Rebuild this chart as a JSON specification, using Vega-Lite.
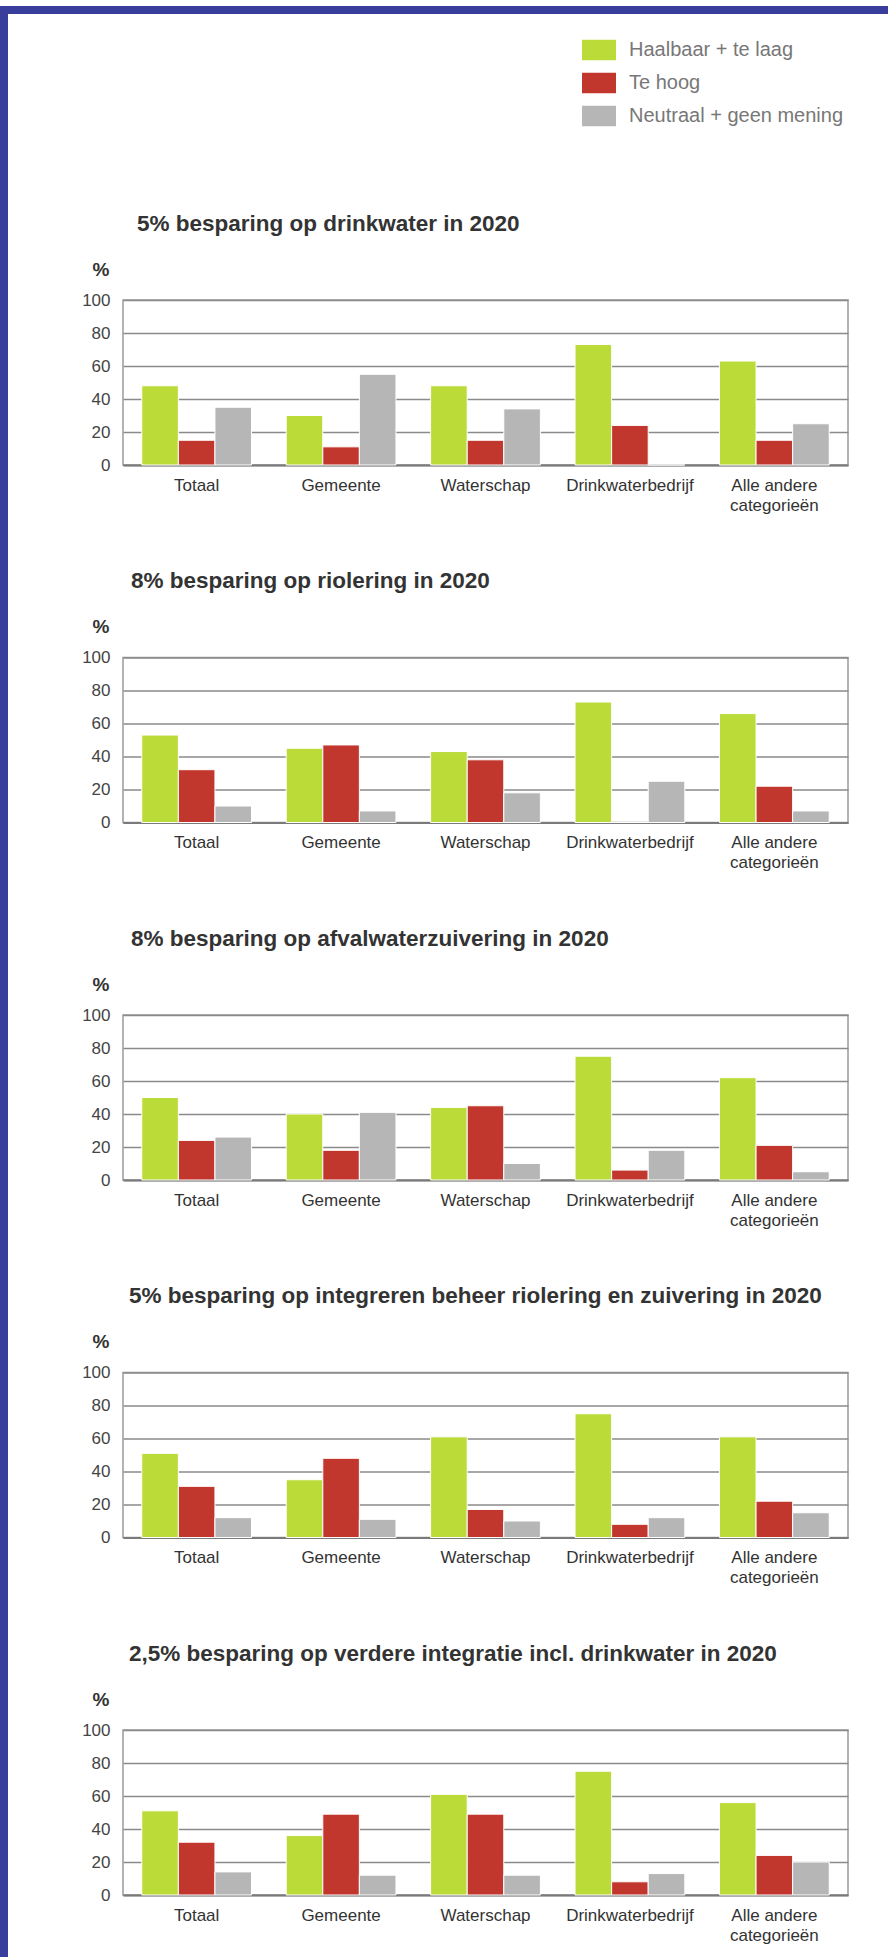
{
  "$schema": "https://vega.github.io/schema/vega-lite/v6.json",
  "background": "white",
  "padding": {"left": 0, "top": 6, "right": 0, "bottom": 0},
  "autosize": {"type": "pad"},
  "datasets": {
    "p1": [
      {"categorie": "Totaal", "reeks": "Haalbaar + te laag", "pct": 48},
      {"categorie": "Totaal", "reeks": "Te hoog", "pct": 15},
      {"categorie": "Totaal", "reeks": "Neutraal + geen mening", "pct": 35},
      {"categorie": "Gemeente", "reeks": "Haalbaar + te laag", "pct": 30},
      {"categorie": "Gemeente", "reeks": "Te hoog", "pct": 11},
      {"categorie": "Gemeente", "reeks": "Neutraal + geen mening", "pct": 55},
      {"categorie": "Waterschap", "reeks": "Haalbaar + te laag", "pct": 48},
      {"categorie": "Waterschap", "reeks": "Te hoog", "pct": 15},
      {"categorie": "Waterschap", "reeks": "Neutraal + geen mening", "pct": 34},
      {"categorie": "Drinkwaterbedrijf", "reeks": "Haalbaar + te laag", "pct": 73},
      {"categorie": "Drinkwaterbedrijf", "reeks": "Te hoog", "pct": 24},
      {"categorie": "Drinkwaterbedrijf", "reeks": "Neutraal + geen mening", "pct": 0},
      {"categorie": "Alle andere categorieën", "reeks": "Haalbaar + te laag", "pct": 63},
      {"categorie": "Alle andere categorieën", "reeks": "Te hoog", "pct": 15},
      {"categorie": "Alle andere categorieën", "reeks": "Neutraal + geen mening", "pct": 25}
    ],
    "p2": [
      {"categorie": "Totaal", "reeks": "Haalbaar + te laag", "pct": 53},
      {"categorie": "Totaal", "reeks": "Te hoog", "pct": 32},
      {"categorie": "Totaal", "reeks": "Neutraal + geen mening", "pct": 10},
      {"categorie": "Gemeente", "reeks": "Haalbaar + te laag", "pct": 45},
      {"categorie": "Gemeente", "reeks": "Te hoog", "pct": 47},
      {"categorie": "Gemeente", "reeks": "Neutraal + geen mening", "pct": 7},
      {"categorie": "Waterschap", "reeks": "Haalbaar + te laag", "pct": 43},
      {"categorie": "Waterschap", "reeks": "Te hoog", "pct": 38},
      {"categorie": "Waterschap", "reeks": "Neutraal + geen mening", "pct": 18},
      {"categorie": "Drinkwaterbedrijf", "reeks": "Haalbaar + te laag", "pct": 73},
      {"categorie": "Drinkwaterbedrijf", "reeks": "Te hoog", "pct": 0},
      {"categorie": "Drinkwaterbedrijf", "reeks": "Neutraal + geen mening", "pct": 25},
      {"categorie": "Alle andere categorieën", "reeks": "Haalbaar + te laag", "pct": 66},
      {"categorie": "Alle andere categorieën", "reeks": "Te hoog", "pct": 22},
      {"categorie": "Alle andere categorieën", "reeks": "Neutraal + geen mening", "pct": 7}
    ],
    "p3": [
      {"categorie": "Totaal", "reeks": "Haalbaar + te laag", "pct": 50},
      {"categorie": "Totaal", "reeks": "Te hoog", "pct": 24},
      {"categorie": "Totaal", "reeks": "Neutraal + geen mening", "pct": 26},
      {"categorie": "Gemeente", "reeks": "Haalbaar + te laag", "pct": 40},
      {"categorie": "Gemeente", "reeks": "Te hoog", "pct": 18},
      {"categorie": "Gemeente", "reeks": "Neutraal + geen mening", "pct": 41},
      {"categorie": "Waterschap", "reeks": "Haalbaar + te laag", "pct": 44},
      {"categorie": "Waterschap", "reeks": "Te hoog", "pct": 45},
      {"categorie": "Waterschap", "reeks": "Neutraal + geen mening", "pct": 10},
      {"categorie": "Drinkwaterbedrijf", "reeks": "Haalbaar + te laag", "pct": 75},
      {"categorie": "Drinkwaterbedrijf", "reeks": "Te hoog", "pct": 6},
      {"categorie": "Drinkwaterbedrijf", "reeks": "Neutraal + geen mening", "pct": 18},
      {"categorie": "Alle andere categorieën", "reeks": "Haalbaar + te laag", "pct": 62},
      {"categorie": "Alle andere categorieën", "reeks": "Te hoog", "pct": 21},
      {"categorie": "Alle andere categorieën", "reeks": "Neutraal + geen mening", "pct": 5}
    ],
    "p4": [
      {"categorie": "Totaal", "reeks": "Haalbaar + te laag", "pct": 51},
      {"categorie": "Totaal", "reeks": "Te hoog", "pct": 31},
      {"categorie": "Totaal", "reeks": "Neutraal + geen mening", "pct": 12},
      {"categorie": "Gemeente", "reeks": "Haalbaar + te laag", "pct": 35},
      {"categorie": "Gemeente", "reeks": "Te hoog", "pct": 48},
      {"categorie": "Gemeente", "reeks": "Neutraal + geen mening", "pct": 11},
      {"categorie": "Waterschap", "reeks": "Haalbaar + te laag", "pct": 61},
      {"categorie": "Waterschap", "reeks": "Te hoog", "pct": 17},
      {"categorie": "Waterschap", "reeks": "Neutraal + geen mening", "pct": 10},
      {"categorie": "Drinkwaterbedrijf", "reeks": "Haalbaar + te laag", "pct": 75},
      {"categorie": "Drinkwaterbedrijf", "reeks": "Te hoog", "pct": 8},
      {"categorie": "Drinkwaterbedrijf", "reeks": "Neutraal + geen mening", "pct": 12},
      {"categorie": "Alle andere categorieën", "reeks": "Haalbaar + te laag", "pct": 61},
      {"categorie": "Alle andere categorieën", "reeks": "Te hoog", "pct": 22},
      {"categorie": "Alle andere categorieën", "reeks": "Neutraal + geen mening", "pct": 15}
    ],
    "p5": [
      {"categorie": "Totaal", "reeks": "Haalbaar + te laag", "pct": 51},
      {"categorie": "Totaal", "reeks": "Te hoog", "pct": 32},
      {"categorie": "Totaal", "reeks": "Neutraal + geen mening", "pct": 14},
      {"categorie": "Gemeente", "reeks": "Haalbaar + te laag", "pct": 36},
      {"categorie": "Gemeente", "reeks": "Te hoog", "pct": 49},
      {"categorie": "Gemeente", "reeks": "Neutraal + geen mening", "pct": 12},
      {"categorie": "Waterschap", "reeks": "Haalbaar + te laag", "pct": 61},
      {"categorie": "Waterschap", "reeks": "Te hoog", "pct": 49},
      {"categorie": "Waterschap", "reeks": "Neutraal + geen mening", "pct": 12},
      {"categorie": "Drinkwaterbedrijf", "reeks": "Haalbaar + te laag", "pct": 75},
      {"categorie": "Drinkwaterbedrijf", "reeks": "Te hoog", "pct": 8},
      {"categorie": "Drinkwaterbedrijf", "reeks": "Neutraal + geen mening", "pct": 13},
      {"categorie": "Alle andere categorieën", "reeks": "Haalbaar + te laag", "pct": 56},
      {"categorie": "Alle andere categorieën", "reeks": "Te hoog", "pct": 24},
      {"categorie": "Alle andere categorieën", "reeks": "Neutraal + geen mening", "pct": 20}
    ],
    "leeg": [{"rand": "blauw"}]
  },
  "spacing": 0,
  "bounds": "full",
  "hconcat": [
    {
      "width": 8,
      "height": 1951,
      "data": {"name": "leeg"},
      "mark": {"type": "rect", "color": "#393e9c"},
      "encoding": {},
      "view": {"fill": "#393e9c", "stroke": null}
    },
    {
      "spacing": 197,
      "bounds": "full",
      "vconcat": [
        {
          "width": 880,
          "height": 8,
          "data": {"name": "leeg"},
          "mark": {"type": "rect", "color": "#393e9c"},
          "encoding": {},
          "view": {"fill": "#393e9c", "stroke": null}
        },
        {
          "spacing": 54.5,
          "bounds": "full",
          "vconcat": [
            {
              "spacing": 0,
              "hconcat": [
                {"width": 1, "height": 165, "data": {"name": "leeg"}, "mark": {"type": "rect", "opacity": 0}, "encoding": {}, "view": {"stroke": null}},
                {
                  "title": {"text": "5% besparing op drinkwater in 2020", "dx": 14},
                  "data": {"name": "p1"},
                  "width": 725, "height": 165,
                  "mark": {"type": "bar", "stroke": "#ffffff", "strokeWidth": 1},
                  "encoding": {
                    "x": {"field": "categorie", "type": "nominal", "sort": null, "title": null,
                          "scale": {"paddingInner": 0.24, "paddingOuter": 0.13},
                          "axis": {"labelExpr": "datum.value == 'Alle andere categorieën' ? ['Alle andere', 'categorieën'] : datum.label"}},
                    "xOffset": {"field": "reeks", "type": "nominal", "sort": null,
                                "scale": {"domain": ["Haalbaar + te laag", "Te hoog", "Neutraal + geen mening"], "paddingInner": 0, "paddingOuter": 0}},
                    "y": {"field": "pct", "type": "quantitative", "title": "%",
                          "scale": {"domain": [0, 100]},
                          "axis": {"tickCount": 5, "titleAngle": 0, "titleX": -14, "titleY": -31, "titleAlign": "right", "titleBaseline": "middle", "minExtent": 113}},
                    "color": {"field": "reeks", "type": "nominal",
                              "scale": {"domain": ["Haalbaar + te laag", "Te hoog", "Neutraal + geen mening"], "range": ["#badb38", "#c1372d", "#b5b6b5"]},
                              "legend": {"orient": "none", "legendX": 582, "legendY": 27, "title": null, "direction": "vertical"}}
                  }
                }
              ]
            },
            {
              "spacing": 0,
              "hconcat": [
                {"width": 1, "height": 165, "data": {"name": "leeg"}, "mark": {"type": "rect", "opacity": 0}, "encoding": {}, "view": {"stroke": null}},
                {
                  "title": {"text": "8% besparing op riolering in 2020", "dx": 8},
                  "data": {"name": "p2"},
                  "width": 725, "height": 165,
                  "mark": {"type": "bar", "stroke": "#ffffff", "strokeWidth": 1},
                  "encoding": {
                    "x": {"field": "categorie", "type": "nominal", "sort": null, "title": null,
                          "scale": {"paddingInner": 0.24, "paddingOuter": 0.13},
                          "axis": {"labelExpr": "datum.value == 'Alle andere categorieën' ? ['Alle andere', 'categorieën'] : datum.label"}},
                    "xOffset": {"field": "reeks", "type": "nominal", "sort": null,
                                "scale": {"domain": ["Haalbaar + te laag", "Te hoog", "Neutraal + geen mening"], "paddingInner": 0, "paddingOuter": 0}},
                    "y": {"field": "pct", "type": "quantitative", "title": "%",
                          "scale": {"domain": [0, 100]},
                          "axis": {"tickCount": 5, "titleAngle": 0, "titleX": -14, "titleY": -31, "titleAlign": "right", "titleBaseline": "middle", "minExtent": 113}},
                    "color": {"field": "reeks", "type": "nominal",
                              "scale": {"domain": ["Haalbaar + te laag", "Te hoog", "Neutraal + geen mening"], "range": ["#badb38", "#c1372d", "#b5b6b5"]},
                              "legend": null}
                  }
                }
              ]
            },
            {
              "spacing": 0,
              "hconcat": [
                {"width": 1, "height": 165, "data": {"name": "leeg"}, "mark": {"type": "rect", "opacity": 0}, "encoding": {}, "view": {"stroke": null}},
                {
                  "title": {"text": "8% besparing op afvalwaterzuivering in 2020", "dx": 8},
                  "data": {"name": "p3"},
                  "width": 725, "height": 165,
                  "mark": {"type": "bar", "stroke": "#ffffff", "strokeWidth": 1},
                  "encoding": {
                    "x": {"field": "categorie", "type": "nominal", "sort": null, "title": null,
                          "scale": {"paddingInner": 0.24, "paddingOuter": 0.13},
                          "axis": {"labelExpr": "datum.value == 'Alle andere categorieën' ? ['Alle andere', 'categorieën'] : datum.label"}},
                    "xOffset": {"field": "reeks", "type": "nominal", "sort": null,
                                "scale": {"domain": ["Haalbaar + te laag", "Te hoog", "Neutraal + geen mening"], "paddingInner": 0, "paddingOuter": 0}},
                    "y": {"field": "pct", "type": "quantitative", "title": "%",
                          "scale": {"domain": [0, 100]},
                          "axis": {"tickCount": 5, "titleAngle": 0, "titleX": -14, "titleY": -31, "titleAlign": "right", "titleBaseline": "middle", "minExtent": 113}},
                    "color": {"field": "reeks", "type": "nominal",
                              "scale": {"domain": ["Haalbaar + te laag", "Te hoog", "Neutraal + geen mening"], "range": ["#badb38", "#c1372d", "#b5b6b5"]},
                              "legend": null}
                  }
                }
              ]
            },
            {
              "spacing": 0,
              "hconcat": [
                {"width": 1, "height": 165, "data": {"name": "leeg"}, "mark": {"type": "rect", "opacity": 0}, "encoding": {}, "view": {"stroke": null}},
                {
                  "title": {"text": "5% besparing op integreren beheer riolering en zuivering in 2020", "dx": 6},
                  "data": {"name": "p4"},
                  "width": 725, "height": 165,
                  "mark": {"type": "bar", "stroke": "#ffffff", "strokeWidth": 1},
                  "encoding": {
                    "x": {"field": "categorie", "type": "nominal", "sort": null, "title": null,
                          "scale": {"paddingInner": 0.24, "paddingOuter": 0.13},
                          "axis": {"labelExpr": "datum.value == 'Alle andere categorieën' ? ['Alle andere', 'categorieën'] : datum.label"}},
                    "xOffset": {"field": "reeks", "type": "nominal", "sort": null,
                                "scale": {"domain": ["Haalbaar + te laag", "Te hoog", "Neutraal + geen mening"], "paddingInner": 0, "paddingOuter": 0}},
                    "y": {"field": "pct", "type": "quantitative", "title": "%",
                          "scale": {"domain": [0, 100]},
                          "axis": {"tickCount": 5, "titleAngle": 0, "titleX": -14, "titleY": -31, "titleAlign": "right", "titleBaseline": "middle", "minExtent": 113}},
                    "color": {"field": "reeks", "type": "nominal",
                              "scale": {"domain": ["Haalbaar + te laag", "Te hoog", "Neutraal + geen mening"], "range": ["#badb38", "#c1372d", "#b5b6b5"]},
                              "legend": null}
                  }
                }
              ]
            },
            {
              "spacing": 0,
              "hconcat": [
                {"width": 1, "height": 165, "data": {"name": "leeg"}, "mark": {"type": "rect", "opacity": 0}, "encoding": {}, "view": {"stroke": null}},
                {
                  "title": {"text": "2,5% besparing op verdere integratie incl. drinkwater in 2020", "dx": 6},
                  "data": {"name": "p5"},
                  "width": 725, "height": 165,
                  "mark": {"type": "bar", "stroke": "#ffffff", "strokeWidth": 1},
                  "encoding": {
                    "x": {"field": "categorie", "type": "nominal", "sort": null, "title": null,
                          "scale": {"paddingInner": 0.24, "paddingOuter": 0.13},
                          "axis": {"labelExpr": "datum.value == 'Alle andere categorieën' ? ['Alle andere', 'categorieën'] : datum.label"}},
                    "xOffset": {"field": "reeks", "type": "nominal", "sort": null,
                                "scale": {"domain": ["Haalbaar + te laag", "Te hoog", "Neutraal + geen mening"], "paddingInner": 0, "paddingOuter": 0}},
                    "y": {"field": "pct", "type": "quantitative", "title": "%",
                          "scale": {"domain": [0, 100]},
                          "axis": {"tickCount": 5, "titleAngle": 0, "titleX": -14, "titleY": -31, "titleAlign": "right", "titleBaseline": "middle", "minExtent": 113}},
                    "color": {"field": "reeks", "type": "nominal",
                              "scale": {"domain": ["Haalbaar + te laag", "Te hoog", "Neutraal + geen mening"], "range": ["#badb38", "#c1372d", "#b5b6b5"]},
                              "legend": null}
                  }
                }
              ]
            }
          ]
        }
      ]
    }
  ],
  "config": {
    "font": "Liberation Sans",
    "view": {"stroke": "#9a9a9a", "strokeWidth": 1.5},
    "axisX": {
      "labelFontSize": 17, "labelColor": "#333333", "labelPadding": 12, "ticks": false,
      "domainColor": "#7a7a7a", "domainWidth": 2, "labelAngle": 0, "grid": false, "zindex": 1,
      "labelLineHeight": 20, "labelOverlap": false, "labelLimit": 300
    },
    "axisY": {
      "labelFontSize": 17, "labelColor": "#444444", "labelPadding": 13, "ticks": false,
      "domain": false, "grid": true, "gridColor": "#8a8a8a", "gridWidth": 1.3,
      "titleFontSize": 19, "titleFontWeight": "bold", "titleColor": "#333333"
    },
    "title": {"anchor": "start", "frame": "group", "fontSize": 22.5, "fontWeight": "bold", "color": "#333333", "baseline": "alphabetic", "offset": 25},
    "legend": {
      "symbolType": "M-1,-0.6H1V0.6H-1Z", "symbolSize": 1156, "symbolStrokeWidth": 0, "symbolOpacity": 1,
      "labelFontSize": 20, "labelColor": "#777777", "labelOffset": 13, "rowPadding": 5, "padding": 0,
      "labelLimit": 400
    }
  }
}
